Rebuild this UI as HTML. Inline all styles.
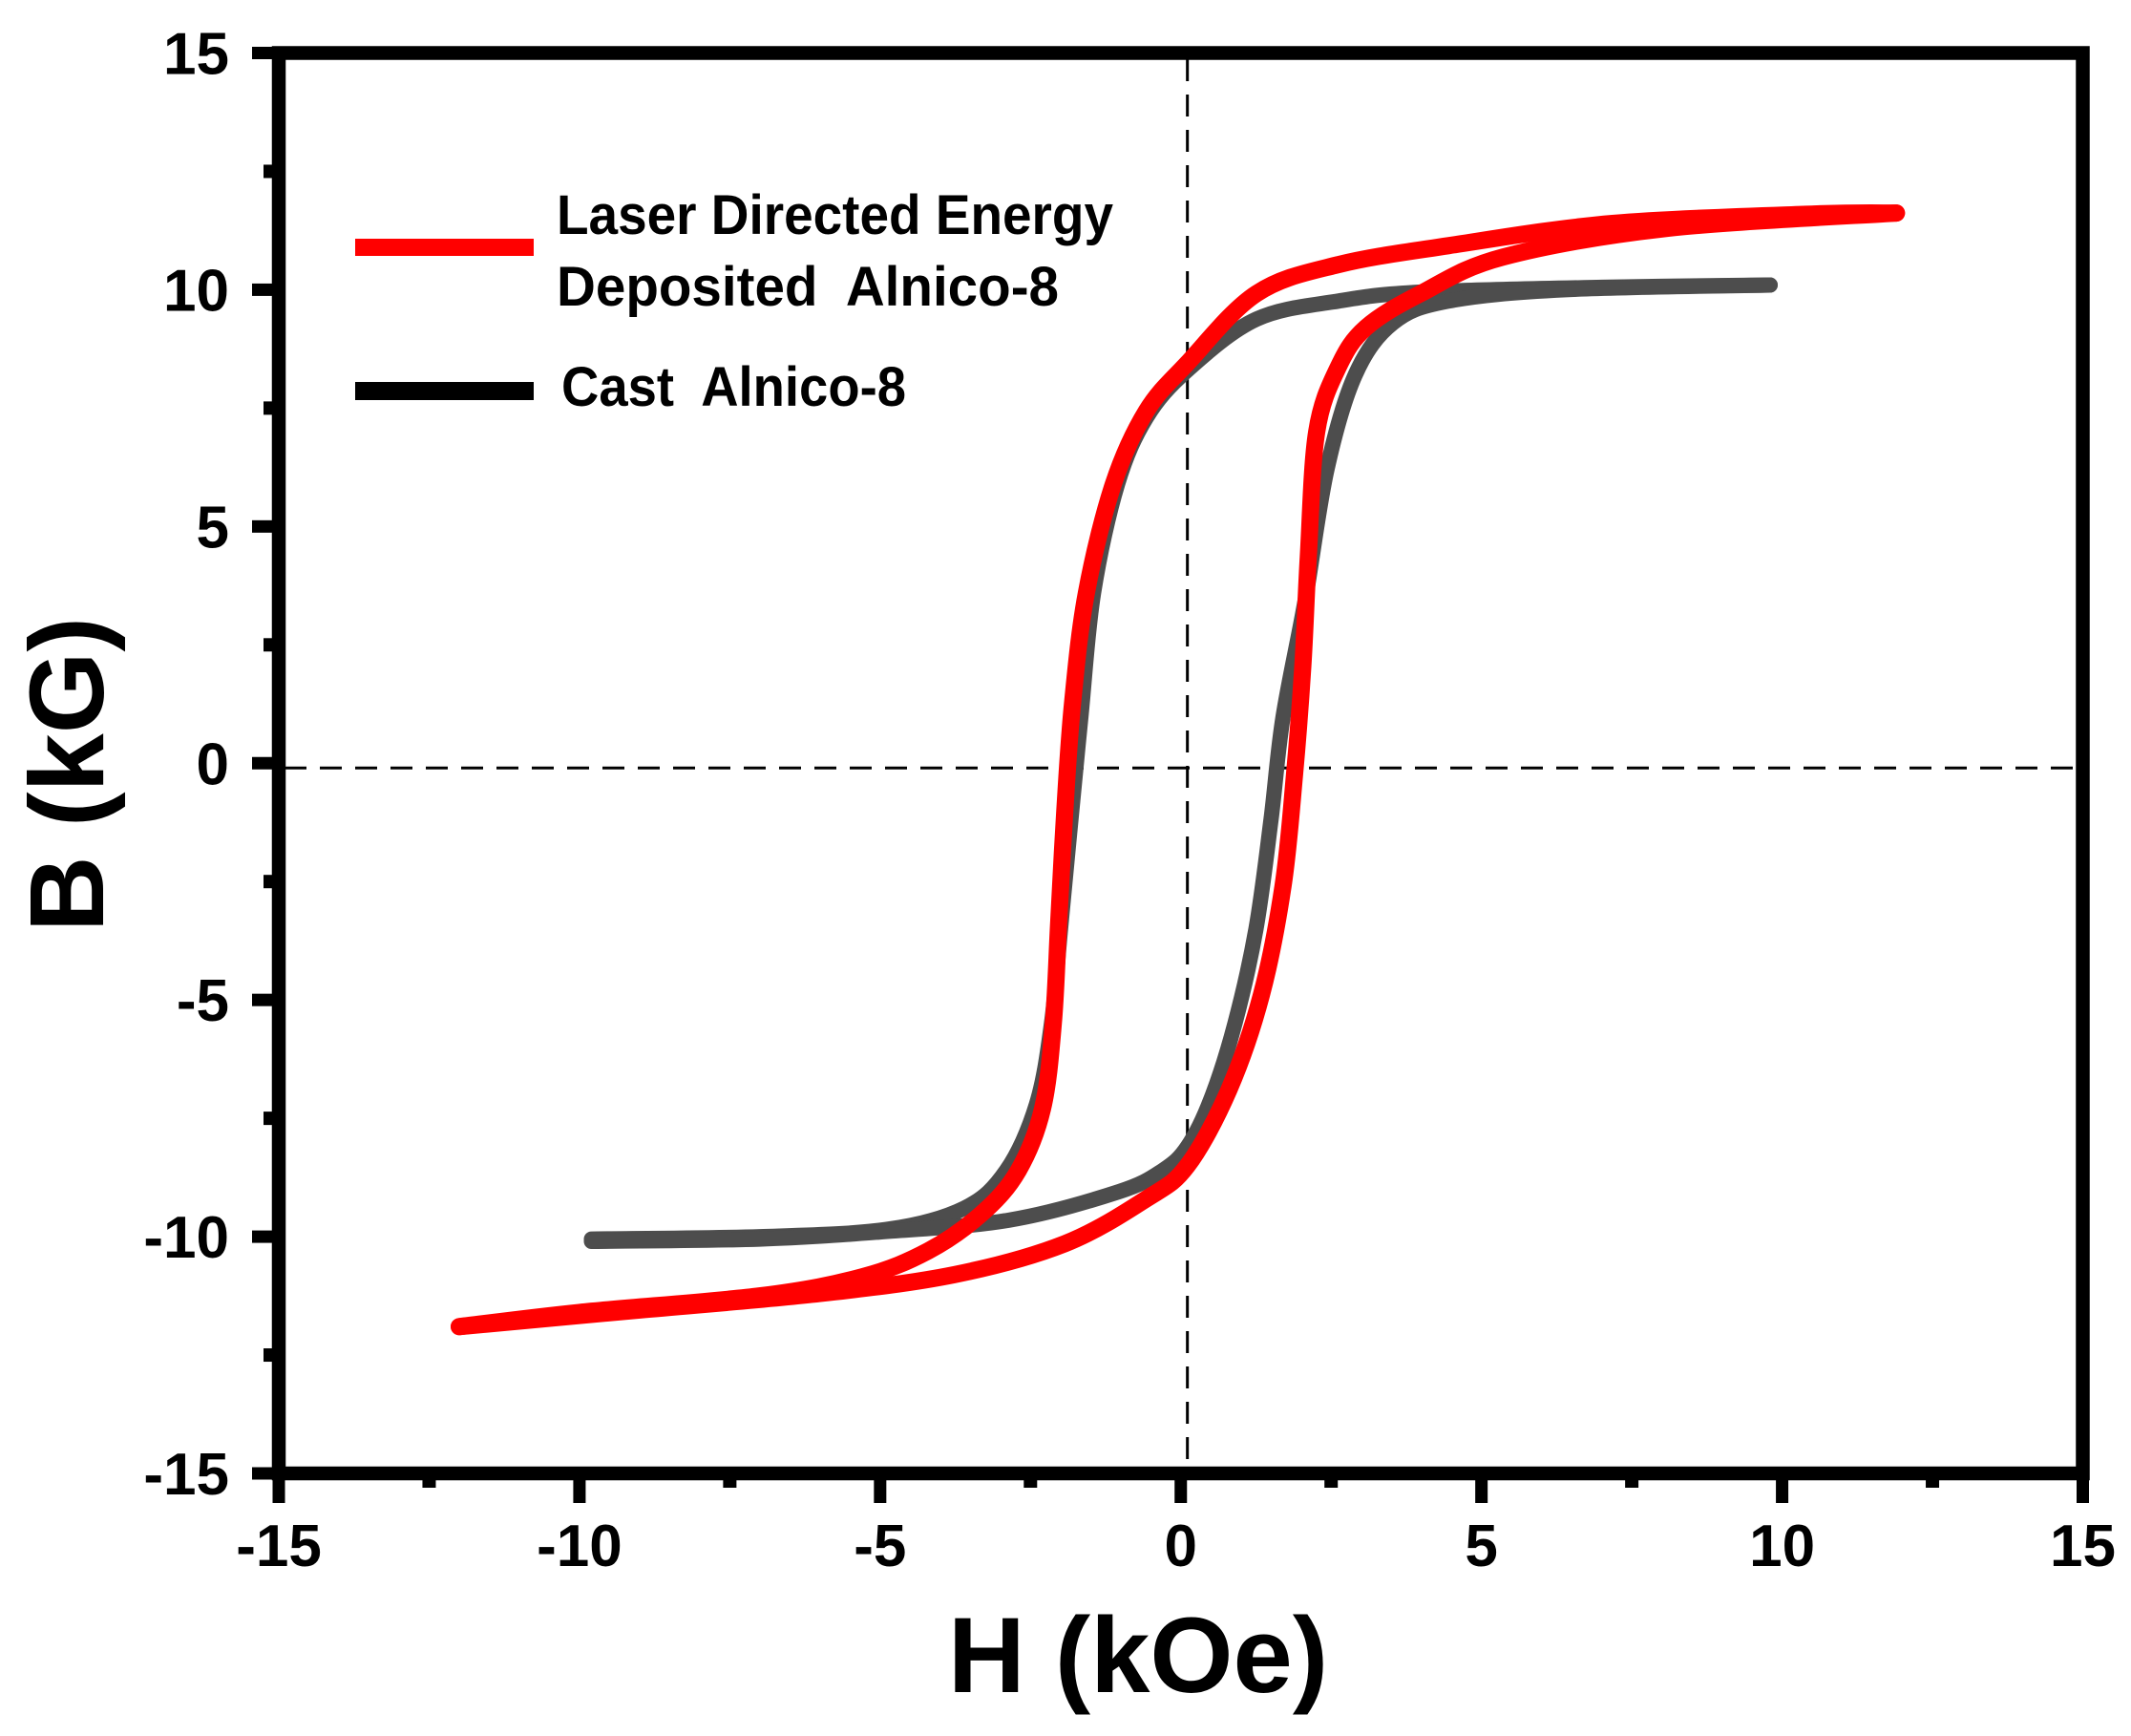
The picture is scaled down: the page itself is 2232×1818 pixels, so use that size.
<!DOCTYPE html>
<html><head><meta charset="utf-8"><style>
html,body{margin:0;padding:0;background:#fff;}
svg{display:block;}
text{font-family:"Liberation Sans",Arial,sans-serif;font-weight:bold;fill:#000;white-space:pre;}
</style></head><body>
<svg id="chart" width="2232" height="1818" viewBox="0 0 2232 1818" xmlns="http://www.w3.org/2000/svg">
<rect x="0" y="0" width="2232" height="1818" fill="#fff"/>
<g id="ticks"></g>
<g id="refs"></g>
<g id="series"></g>
<g id="frame"></g>
<text x="1192" y="1772" font-size="112" text-anchor="middle">H (kOe)</text>
<text transform="translate(108,811) rotate(-90)" x="0" y="0" font-size="110" text-anchor="middle">B (kG)</text>
<g>
<rect x="372" y="250" width="187" height="18" fill="#ff0000"/>
<text x="583" y="245" font-size="58" textLength="583" lengthAdjust="spacingAndGlyphs">Laser Directed Energy</text>
<text x="583" y="320" font-size="58" textLength="526" lengthAdjust="spacingAndGlyphs" xml:space="preserve">Deposited  Alnico-8</text>
<rect x="372" y="400" width="187" height="19" fill="#000"/>
<text x="588" y="425" font-size="58" textLength="361" lengthAdjust="spacingAndGlyphs" xml:space="preserve">Cast  Alnico-8</text>
</g>
</svg>
<script>
const xTicks = [-15, -10, -5, 0, 5, 10, 15];
const yTicks = [-15, -10, -5, 0, 5, 10, 15];
const xTickLabels = ["-15", "-10", "-5", "0", "5", "10", "15"];
const yTickLabels = ["-15", "-10", "-5", "0", "5", "10", "15"];
const refH = 0.11;
const refB = -0.1;
// LDED (red) loop
const ldedDownH = [11.9, 10.53, 7.18, 4.45, 2.62, 1.26, 0.11, -0.57, -1.12, -1.57, -1.8, -1.93, -2.03, -2.12, -2.3, -2.7, -3.3, -4.2, -5.3, -7, -10, -12];
const ldedDownB = [11.62, 11.6, 11.4, 10.93, 10.53, 9.92, 8.45, 7.44, 5.9, 3.6, 1.27, -1.03, -3.35, -5.5, -7.3, -8.6, -9.5, -10.3, -10.85, -11.25, -11.6, -11.9];
const ldedUpH = [-12, -9, -6, -3.76, -1.93, -0.57, 0.11, 0.8, 1.34, 1.7, 1.89, 2.03, 2.12, 2.26, 2.62, 3.08, 3.99, 5.36, 8.1, 11.9];
const ldedUpB = [-11.9, -11.55, -11.2, -10.8, -10.15, -9.2, -8.5, -6.9, -4.9, -2.6, -0.26, 2.06, 4.36, 7.0, 8.37, 9.2, 9.92, 10.69, 11.3, 11.62];
// Cast (gray) loop
const castDownH = [9.8, 7, 4, 2.62, 1.26, 0.11, -0.57, -1.05, -1.45, -1.66, -1.85, -2.0, -2.15, -2.4, -2.9, -3.6, -4.9, -7, -9.8];
const castDownB = [10.1, 10.05, 9.95, 9.76, 9.38, 8.3, 7.3, 5.9, 3.6, 1.0, -1.5, -3.5, -5.5, -7.2, -8.6, -9.4, -9.85, -10.0, -10.05];
const castUpH = [-9.8, -7, -5, -2.85, -1.03, -0.3, 0.11, 0.5, 0.9, 1.25, 1.5, 1.7, 2.07, 2.43, 2.9, 3.53, 4.45, 6.4, 9.8];
const castUpB = [-10.1, -10.05, -9.9, -9.65, -9.05, -8.6, -8.1, -7.1, -5.5, -3.5, -1.2, 0.97, 3.45, 6.2, 8.2, 9.3, 9.76, 10.0, 10.1];

const NS = "http://www.w3.org/2000/svg";
const X0 = 292, X1 = 2181.5, Y0 = 1543, Y1 = 55.5;
function sx(h){ return X0 + (h + 15) / 30 * (X1 - X0); }
function sy(b){ return Y0 - (b + 15) / 30 * (Y0 - Y1); }
function mk(tag, attrs){ const e = document.createElementNS(NS, tag); for (const k in attrs) e.setAttribute(k, attrs[k]); return e; }

function smoothPath(hs, bs){
  const p = hs.map((h, i) => [sx(h), sy(bs[i])]);
  let d = "M" + p[0][0].toFixed(1) + "," + p[0][1].toFixed(1);
  for (let i = 0; i < p.length - 1; i++){
    const a = p[Math.max(0, i - 1)], b = p[i], c = p[i + 1], e = p[Math.min(p.length - 1, i + 2)];
    const c1 = [b[0] + (c[0] - a[0]) / 6, b[1] + (c[1] - a[1]) / 6];
    const c2 = [c[0] - (e[0] - b[0]) / 6, c[1] - (e[1] - b[1]) / 6];
    d += " C" + c1[0].toFixed(1) + "," + c1[1].toFixed(1) + " " + c2[0].toFixed(1) + "," + c2[1].toFixed(1) + " " + c[0].toFixed(1) + "," + c[1].toFixed(1);
  }
  return d;
}

const ticks = document.getElementById("ticks");
xTicks.forEach((v, i) => {
  const t = mk("rect", {x: sx(v) - 6.5, y: 1545, width: 13, height: 29, fill: "#000"});
  
  
  ticks.appendChild(t);
  const l = mk("text", {x: sx(v), y: 1640, "font-size": 62, "text-anchor": "middle"});
  l.textContent = xTickLabels[i];
  
  
  ticks.appendChild(l);
  if (i < xTicks.length - 1){
    const m = mk("rect", {x: sx(v + 2.5) - 7, y: 1545, width: 14, height: 13, fill: "#000"});
    
    
    ticks.appendChild(m);
  }
});
yTicks.forEach((v, i) => {
  const t = mk("rect", {x: 264, y: sy(v) - 6.5, width: 28, height: 13, fill: "#000"});
  
  
  ticks.appendChild(t);
  const l = mk("text", {x: 240, y: sy(v) + 22, "font-size": 62, "text-anchor": "end"});
  l.textContent = yTickLabels[i];
  
  
  ticks.appendChild(l);
  if (i < yTicks.length - 1){
    const m = mk("rect", {x: 276, y: sy(v + 2.5) - 7, width: 16, height: 14, fill: "#000"});
    
    
    ticks.appendChild(m);
  }
});

const refs = document.getElementById("refs");
const vl = mk("line", {x1: sx(refH), y1: 62, x2: sx(refH), y2: 1537, stroke: "#000", "stroke-width": 3, "stroke-dasharray": "23 14"});


refs.appendChild(vl);
const hl = mk("line", {x1: 298, y1: sy(refB), x2: 2175, y2: sy(refB), stroke: "#000", "stroke-width": 3, "stroke-dasharray": "23 14"});


refs.appendChild(hl);

const series = document.getElementById("series");
function addCurve(hs, bs, color, w, name){
  const p = mk("path", {d: smoothPath(hs, bs), fill: "none", stroke: color, "stroke-width": w, "stroke-linecap": "round", "stroke-linejoin": "round"});
  
  
  series.appendChild(p);
}
addCurve(castDownH, castDownB, "#4d4d4d", 16, "cast-descending-branch");
addCurve(castUpH, castUpB, "#4d4d4d", 16, "cast-ascending-branch");
addCurve(ldedDownH, ldedDownB, "#ff0000", 18, "lded-descending-branch");
addCurve(ldedUpH, ldedUpB, "#ff0000", 18, "lded-ascending-branch");

const frame = document.getElementById("frame");
const fr = mk("rect", {x: 292, y: 55.5, width: 1889.5, height: 1487.5, fill: "none", stroke: "#000", "stroke-width": 14.5});


frame.appendChild(fr);
</script>
</body></html>
